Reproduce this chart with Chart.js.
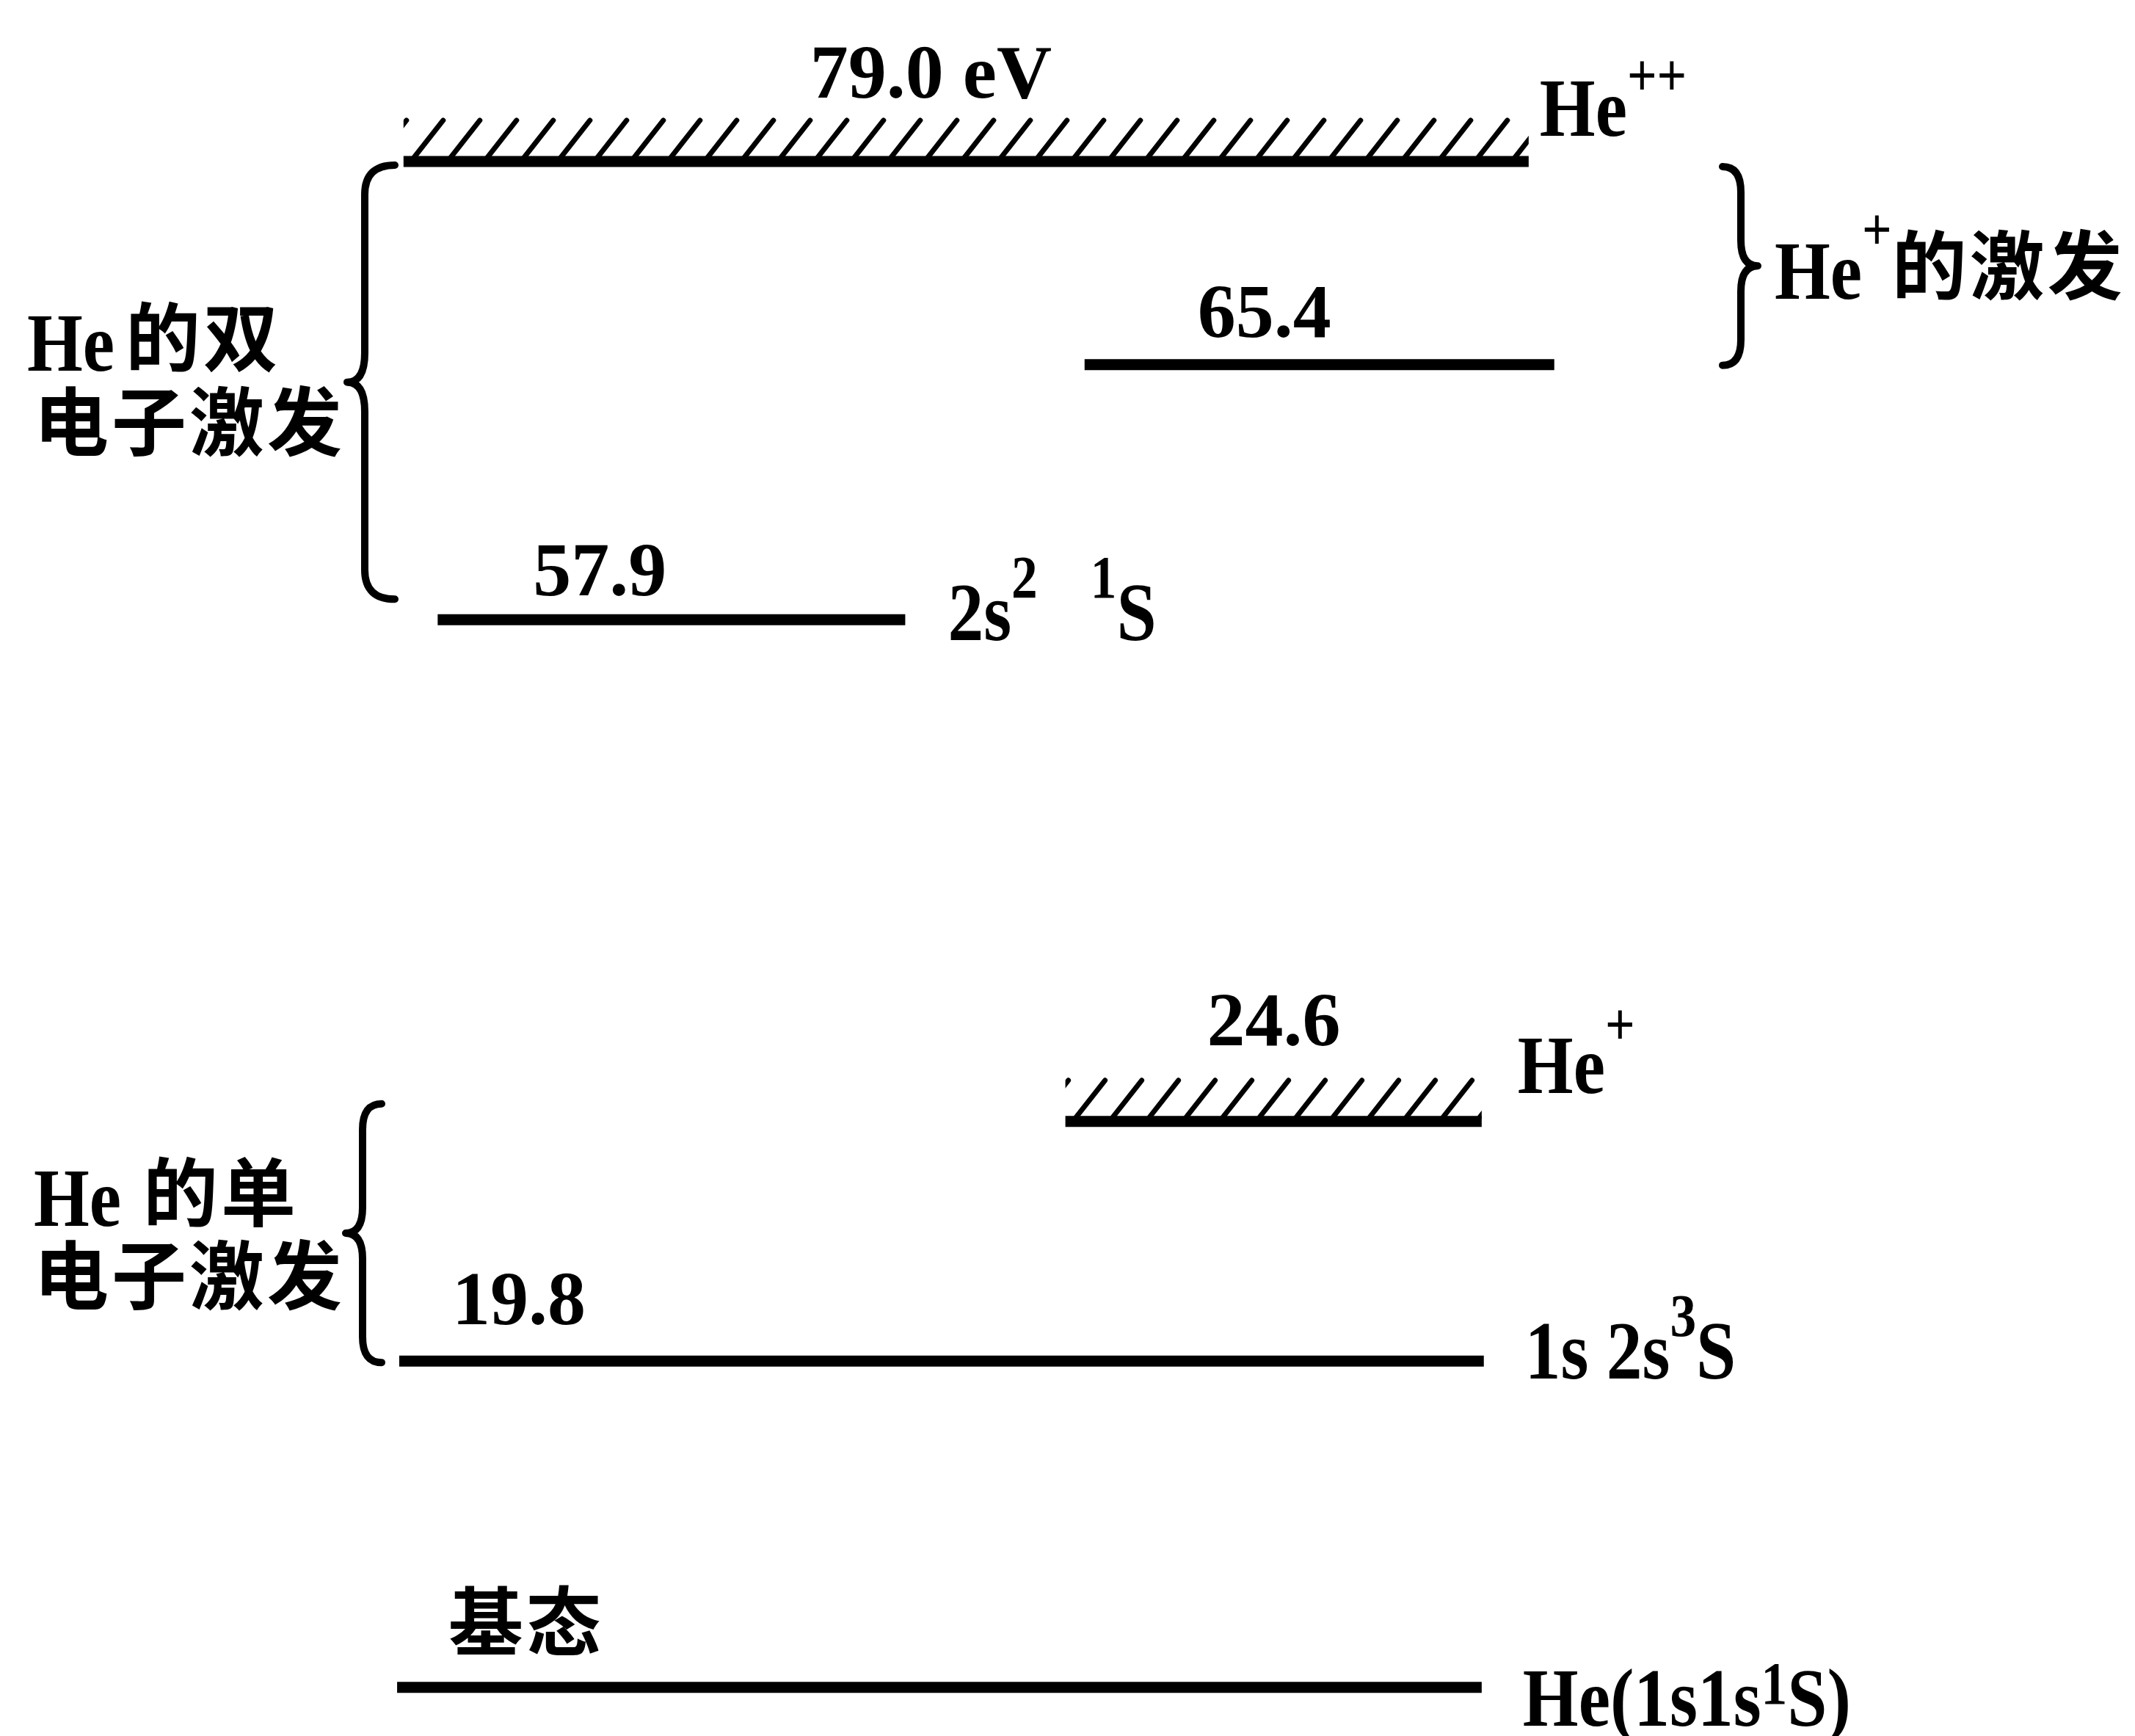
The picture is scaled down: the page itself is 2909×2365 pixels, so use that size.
<!DOCTYPE html>
<html>
<head>
<meta charset="utf-8">
<title>He energy levels</title>
<script src="https://cdn.jsdelivr.net/npm/chart.js@4.4.1/dist/chart.umd.min.js"></script>
<style>
  html, body { margin: 0; padding: 0; background: #fff; overflow: hidden; }
  canvas { display: block; }
</style>
</head>
<body>
<canvas id="levels" width="2909" height="2365"></canvas>
<script>
// He energy levels (eV) and where they sit on the schematic (not to scale)
const levelNames = ["He++", "65.4", "57.9", "He+", "19.8", "ground"];
const levelEnergies = [79.0, 65.4, 57.9, 24.6, 19.8, 0];
const levelValueText = ["79.0 eV", "65.4", "57.9", "24.6", "19.8", "基态"];
const levelHeights = [90.7, 79.0, 64.3, 35.4, 21.6, 2.8];
const levelStarts = [18.9, 50.8, 20.5, 49.9, 18.7, 18.6];
const levelEnds = [71.6, 72.8, 42.4, 69.4, 69.5, 69.4];
const levelHatched = [true, false, false, true, false, false];

// term symbols at the right end of each level: [text, style, raise]
const stateTerms = [
  [["He", "m"], ["++", "sup", 55]],
  null,
  [["2s", "m"], ["2", "sup"], [null, 72], ["1", "sup"], ["S", "m"]],
  [["He", "m"], ["+", "sup", 66]],
  [["1s 2s", "m"], ["3", "sup"], ["S", "m"]],
  [["He(1s1s", "m"], ["1", "sup", 30], ["S)", "m"]],
];

// group captions next to the braces
const doubleTitle = [[["He", "m"], [null, 15], ["的双", "cjk"]], [["电子激发", "cjk"]]];
const singleTitle = [[["He", "m"], [null, 30], ["的单", "cjk"]], [["电子激发", "cjk"]]];
const ionTitle = [[["He", "m"], ["+", "sup", 67], ["的激发", "cjk"]]];

// label placement (px, relative to each level)
const valueDx = [554, 154, 130, 193, 72, 70];
const valueDy = [-87, -38, -33, -104, -50, -51];
const termDx = [15, 0, 58, 49, 56, 56];
const termDy = [-35, 0, 28, -39, 24, 52];

const serif = '"Liberation Serif", "Times New Roman", "DejaVu Serif", serif';
const runStyles = {
  m: { font: "bold 112px " + serif, sx: 0.87, dy: 0 },
  sup: { font: "bold 82px " + serif, sx: 0.87, dy: -58 },
  num: { font: "bold 104px " + serif, sx: 1.0, dy: 0 },
  cjk: { font: 'bold 102px "Noto Sans CJK SC"', spacing: 4, dy: -7 },
};

function drawRuns(ctx, runs, x, y) {
  let cx = x;
  runs.forEach(([text, kind, raise]) => {
    if (text === null) {
      cx += kind;
      return;
    }
    const st = runStyles[kind];
    ctx.font = st.font;
    if (kind === "cjk") {
      for (const ch of text) {
        ctx.fillText(ch, cx, y + st.dy);
        cx += ctx.measureText(ch).width + st.spacing;
      }
      return;
    }
    const dy = raise !== undefined ? -raise : st.dy;
    ctx.save();
    ctx.translate(cx, y + dy);
    ctx.scale(st.sx, 1);
    ctx.fillText(text, 0, 0);
    ctx.restore();
    cx += ctx.measureText(text).width * st.sx;
  });
}

function drawBrace(ctx, xEnd, xv, xTip, top, bottom, r) {
  const tip = (top + bottom) / 2;
  ctx.beginPath();
  ctx.moveTo(xEnd, top);
  ctx.quadraticCurveTo(xv, top, xv, top + r);
  ctx.lineTo(xv, tip - r);
  ctx.quadraticCurveTo(xv, tip, xTip, tip);
  ctx.quadraticCurveTo(xv, tip, xv, tip + r);
  ctx.lineTo(xv, bottom - r);
  ctx.quadraticCurveTo(xv, bottom, xEnd, bottom);
  ctx.stroke();
}

function drawHatch(ctx, x0, x1, yc) {
  ctx.save();
  ctx.beginPath();
  ctx.rect(x0, yc - 60, x1 - x0, 60);
  ctx.clip();
  ctx.lineWidth = 7;
  ctx.lineCap = "round";
  for (let bx = x0 - 40; bx < x1; bx += 50) {
    ctx.beginPath();
    ctx.moveTo(bx, yc);
    ctx.lineTo(bx + 44, yc - 56);
    ctx.stroke();
  }
  ctx.restore();
}

const diagramPlugin = {
  id: "diagram",
  afterDatasetsDraw(chart) {
    const ctx = chart.ctx;
    const sx = chart.scales.x;
    const sy = chart.scales.y;
    const yOf = (i) => sy.getPixelForValue(levelHeights[i]);

    ctx.save();
    ctx.fillStyle = "#000";
    ctx.strokeStyle = "#000";
    ctx.textBaseline = "alphabetic";
    ctx.textAlign = "left";
    ctx.lineJoin = "round";

    levelNames.forEach((name, i) => {
      const x0 = sx.getPixelForValue(levelStarts[i]);
      const x1 = sx.getPixelForValue(levelEnds[i]);
      const y = yOf(i);

      if (levelHatched[i]) drawHatch(ctx, x0, x1, y);

      // energy value above the level
      const kind = levelEnergies[i] === 0 ? "cjk" : "num";
      const lift = kind === "cjk" ? 7 : 0;
      drawRuns(ctx, [[levelValueText[i], kind]], x0 + valueDx[i], y + valueDy[i] + lift);

      if (stateTerms[i]) drawRuns(ctx, stateTerms[i], x1 + termDx[i], y + termDy[i]);
    });

    // braces
    ctx.lineWidth = 10;
    ctx.lineCap = "round";
    drawBrace(ctx, 538, 497, 473, yOf(0) + 5, yOf(2) - 28, 40);
    drawBrace(ctx, 2347, 2372, 2395, yOf(0) + 7, yOf(1) + 1, 35);
    drawBrace(ctx, 520, 494, 471, yOf(3) - 24, yOf(4) + 2, 35);

    drawRuns(ctx, doubleTitle[0], 37, 505);
    drawRuns(ctx, doubleTitle[1], 46, 620);
    drawRuns(ctx, singleTitle[0], 46, 1670);
    drawRuns(ctx, singleTitle[1], 46, 1783);
    drawRuns(ctx, ionTitle[0], 2418, 407);

    ctx.restore();
  },
};

const datasets = levelNames.map((name, i) => ({
  label: name,
  data: [
    { x: levelStarts[i], y: levelHeights[i] },
    { x: levelEnds[i], y: levelHeights[i] },
  ],
  showLine: true,
  borderColor: "#000",
  borderWidth: 15,
  borderCapStyle: "butt",
  pointRadius: 0,
  fill: false,
}));

new Chart(document.getElementById("levels"), {
  type: "scatter",
  data: { datasets },
  options: {
    responsive: false,
    devicePixelRatio: 1,
    animation: false,
    layout: { padding: 0 },
    plugins: {
      legend: { display: false },
      tooltip: { enabled: false },
    },
    scales: {
      x: { type: "linear", min: 0, max: 100, display: false },
      y: { type: "linear", min: 0, max: 100, display: false },
    },
  },
  plugins: [diagramPlugin],
});
</script>
</body>
</html>
